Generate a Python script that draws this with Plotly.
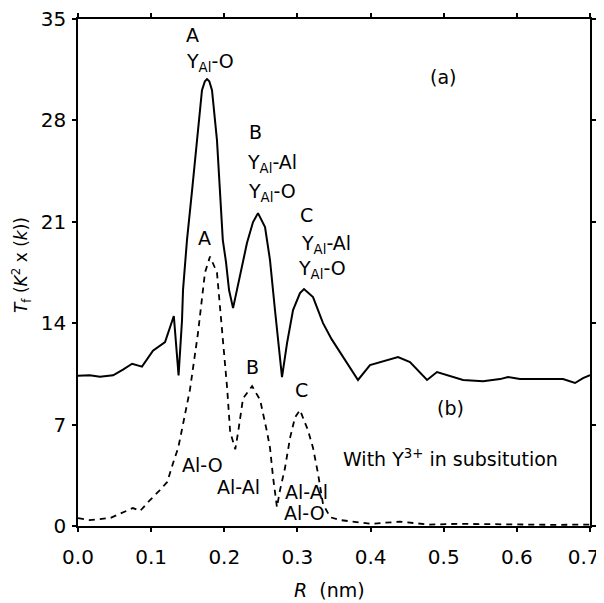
import plotly.graph_objects as go

# Curve (a): solid
r_a = [0.0, 0.016, 0.030, 0.048, 0.0615, 0.074, 0.0875, 0.1025, 0.119, 0.131,
       0.1375, 0.1422, 0.1436, 0.149, 0.156, 0.1627, 0.1695, 0.1735, 0.1764, 0.1795,
       0.1832, 0.190, 0.194, 0.198, 0.2024, 0.2065, 0.212, 0.2215, 0.231, 0.2393,
       0.2461, 0.2557, 0.2625, 0.2693, 0.2762, 0.2789, 0.2858, 0.294, 0.3035, 0.309,
       0.3213, 0.335, 0.3467, 0.3623, 0.3828, 0.3992, 0.4129, 0.4375, 0.4539, 0.4772,
       0.4908, 0.5045, 0.5264, 0.5537, 0.577, 0.5879, 0.6043, 0.6317, 0.6631, 0.6795,
       0.6905, 0.70]
t_a = [10.37, 10.4, 10.3, 10.4, 10.8, 11.2, 11.0, 12.1, 12.7, 14.5,
       10.4, 14.2, 16.3, 19.74, 23.19, 26.64, 30.09, 30.7, 30.85, 30.7,
       30.09, 26.64, 23.19, 19.74, 18.2, 16.29, 15.04, 17.18, 19.53, 20.98,
       21.6, 20.64, 18.36, 14.91, 11.46, 10.28, 12.63, 14.91, 16.08, 16.36,
       15.8, 14.0, 12.9, 11.66, 10.08, 11.11, 11.32, 11.66, 11.32, 10.08,
       10.63, 10.42, 10.08, 10.0, 10.14, 10.28, 10.14, 10.14, 10.14, 9.87,
       10.21, 10.42]

# Curve (b): dashed, with Y3+ in substitution
r_b = [0.0, 0.016, 0.044, 0.0615, 0.075, 0.085, 0.096, 0.112, 0.122, 0.130,
       0.137, 0.142, 0.153, 0.164, 0.1736, 0.1805, 0.190, 0.194, 0.198, 0.204,
       0.208, 0.211, 0.215, 0.219, 0.2256, 0.238, 0.249, 0.258, 0.2625, 0.2666,
       0.272, 0.2762, 0.283, 0.290, 0.2967, 0.3035, 0.3145, 0.3213, 0.328, 0.335,
       0.345, 0.36, 0.40, 0.44, 0.45, 0.48, 0.52, 0.56, 0.60, 0.65, 0.70]
t_b = [0.55, 0.41, 0.55, 0.97, 1.24, 1.04, 1.66, 2.48, 3.04, 4.35,
       5.4, 6.63, 9.39, 13.3, 17.5, 18.6, 17.5, 15.2, 12.9, 9.46,
       6.5, 5.9, 5.3, 6.5, 8.8, 9.66, 8.7, 6.6, 5.4, 3.4,
       1.3, 2.48, 4.0, 6.1, 7.5, 8.0, 6.6, 5.4, 3.66, 1.5,
       0.6, 0.4, 0.15, 0.3, 0.25, 0.1, 0.15, 0.12, 0.1, 0.08, 0.1]

x_ticks = [0.0, 0.1, 0.2, 0.3, 0.4, 0.5, 0.6, 0.7]
x_tick_text = ["0.0", "0.1", "0.2", "0.3", "0.4", "0.5", "0.6", "0.7\u00a0\u00a0"]
y_ticks = [0, 7, 14, 21, 28, 35]

labels_text = ["A", "Y<sub>Al</sub>-O", "B", "Y<sub>Al</sub>-Al", "Y<sub>Al</sub>-O",
               "C", "Y<sub>Al</sub>-Al", "Y<sub>Al</sub>-O", "(a)", "(b)",
               "With Y<sup>3+</sup> in subsitution", "A", "B", "C",
               "Al-O", "Al-Al", "Al-Al", "Al-O"]
labels_x = [0.156, 0.1805, 0.242, 0.265, 0.265, 0.313, 0.339, 0.334, 0.499, 0.509,
            0.509, 0.1736, 0.239, 0.306, 0.17, 0.22, 0.313, 0.31]
labels_y = [33.9, 32.0, 27.2, 25.05, 23.0, 21.5, 19.4, 17.7, 31.0, 8.14,
            4.69, 19.9, 11.0, 9.4, 4.2, 2.7, 2.35, 0.9]

FONT = "DejaVu Sans, Arial, sans-serif"

fig = go.Figure()
fig.add_trace(go.Scatter(x=r_a, y=t_a, mode="lines",
                         line=dict(color="black", width=2), showlegend=False))
fig.add_trace(go.Scatter(x=r_b, y=t_b, mode="lines",
                         line=dict(color="black", width=1.8, dash="6px,5px"),
                         showlegend=False))

for t, x, y in zip(labels_text, labels_x, labels_y):
    fig.add_annotation(x=x, y=y, text=t, showarrow=False,
                       xanchor="center", yanchor="middle",
                       font=dict(family=FONT, size=19, color="black"))

# axis titles
fig.add_annotation(xref="paper", yref="paper", x=-0.109, y=0.515,
                   xanchor="center", yanchor="middle",
                   text="<i>T</i><sub>f</sub> (<i>K</i><sup>2</sup> x (<i>k</i>))",
                   textangle=-90, showarrow=False,
                   font=dict(family=FONT, size=17, color="black"))
fig.add_annotation(xref="paper", yref="paper", x=0.492, y=-0.126,
                   xanchor="center", yanchor="middle",
                   text="<i>R</i>  (nm)", showarrow=False,
                   font=dict(family=FONT, size=19, color="black"))

fig.update_layout(
    width=596, height=595,
    margin=dict(l=70, r=14, t=11, b=77),
    paper_bgcolor="white", plot_bgcolor="white",
    font=dict(family=FONT, size=20, color="black"),
    showlegend=False,
)
fig.update_xaxes(range=[0, 0.7], tickvals=x_ticks, ticktext=x_tick_text,
                 showgrid=False, zeroline=False, showline=True, mirror="ticks",
                 linecolor="black", linewidth=1.5, ticks="outside", ticklen=4,
                 tickwidth=1.5, tickcolor="black", automargin=False,
                 ticklabelstandoff=8, ticklabeloverflow="allow")
fig.update_yaxes(range=[0, 35], tickvals=y_ticks,
                 showgrid=False, zeroline=False, showline=True, mirror="ticks",
                 linecolor="black", linewidth=1.5, ticks="outside", ticklen=4,
                 tickwidth=1.5, tickcolor="black", automargin=False,
                 ticklabelstandoff=2, ticklabeloverflow="allow")

fig.write_html("out.html")
